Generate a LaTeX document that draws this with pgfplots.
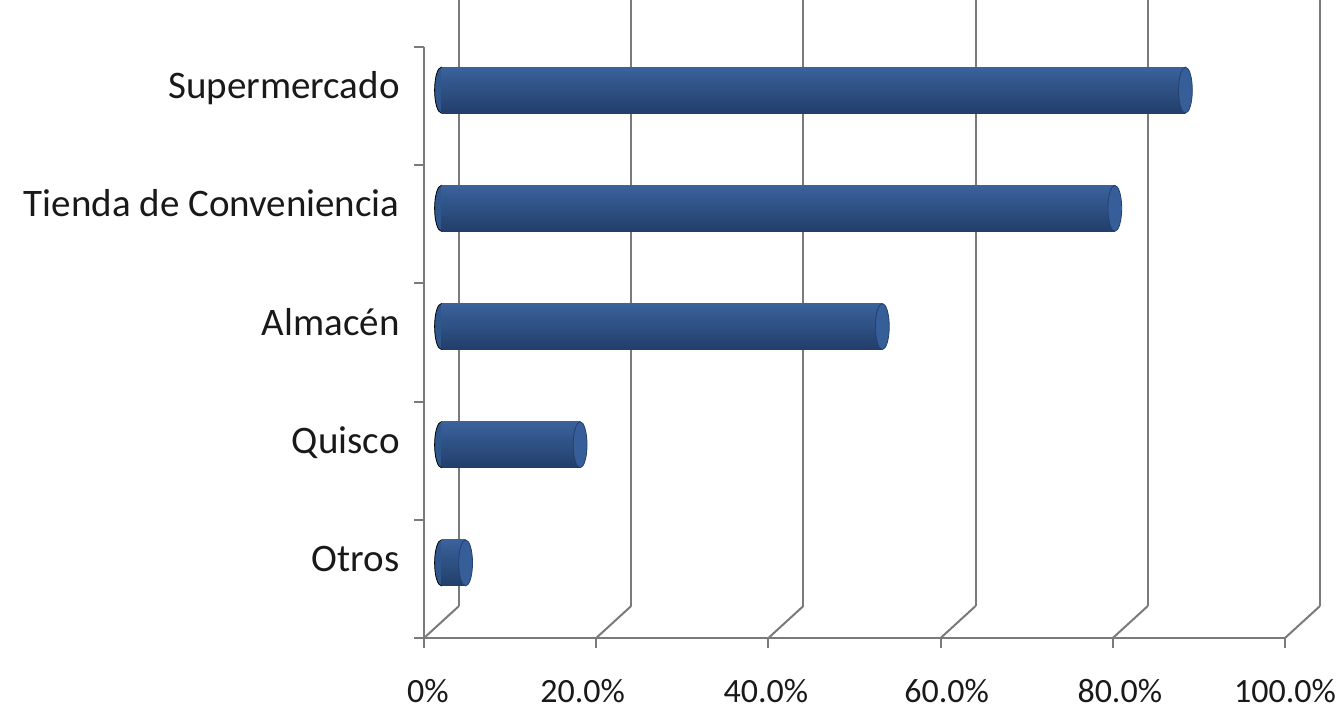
\documentclass[border=0pt]{standalone}
\usepackage{fontspec}
\setmainfont{Carlito}
\usepackage{pgfplots}
\pgfplotsset{compat=1.18}

\definecolor{gridgray}{RGB}{122,122,122}
\definecolor{bartop}{RGB}{58,98,156}
\definecolor{barmid}{RGB}{48,86,142}
\definecolor{barbot}{RGB}{34,62,106}
\definecolor{capfill}{RGB}{54,94,152}
\definecolor{capedge}{RGB}{36,64,110}
\definecolor{labeltext}{RGB}{25,25,25}

\pgfplotsset{
  cylaxis/.style={at={(220.75pt,43.5pt)}, anchor=south west,
    scale only axis, width=430.5pt, height=295.5pt,
    xmin=0, xmax=100, ymin=0, ymax=5, enlargelimits=false,
    clip=false, hide axis},
  cyl/.style={xbar, bar width=23pt, bar shift=0pt, draw=none,
    top color=bartop, middle color=barmid, bottom color=barbot},
  capL/.style={only marks, mark=*, mark size=11.5pt,
    mark options={xscale=0.3, fill=barmid, draw=none}},
  capR/.style={only marks, mark=*, mark size=11.5pt,
    mark options={xscale=0.3, fill=capfill, draw=capedge, line width=0.4pt}},
}

\begin{document}
\begin{tikzpicture}
\path[use as bounding box] (0,0) rectangle (671.5pt,354.5pt);

% back wall: vertical grid lines
\begin{axis}[
  at={(229.5pt,51.5pt)}, anchor=south west,
  scale only axis, width=430.5pt, height=303pt,
  xmin=0, xmax=100, ymin=0, ymax=1, enlargelimits=false,
  axis line style={draw=none},
  xtick={0,20,...,100}, xticklabels={}, ytick=\empty,
  major tick length=0pt,
  xmajorgrids, grid style={gridgray, line width=1pt},
]
\end{axis}

% front floor and left axis
\begin{axis}[
  at={(212pt,35.5pt)}, anchor=south west,
  scale only axis, width=430.5pt, height=295.5pt,
  xmin=0, xmax=100, ymin=0, ymax=5, enlargelimits=false,
  clip=false,
  axis x line=bottom, axis y line=left,
  axis line style={-, gridgray, line width=1pt},
  tick align=outside, major tick length=5pt,
  tick style={gridgray, line width=1pt},
  xtick={0,20,...,100},
  xticklabels={\hspace*{4pt}0\%, 20.0\%\hspace*{13.5pt}, 40.0\%\hspace*{2.5pt},
    \hspace*{6pt}60.0\%, \hspace*{7pt}80.0\%, 100.0\%},
  xticklabel style={font=\fontsize{17}{20}\selectfont, text=labeltext,
    inner sep=0pt, anchor=center, yshift=-21.5pt},
  ytick={0,...,5}, yticklabels={},
  extra y ticks={0.5635,1.5635,2.5635,3.5635,4.5635},
  extra y tick labels={Otros,Quisco,Almacén,Tienda de Conveniencia,Supermercado},
  extra y tick style={major tick length=0pt,
    yticklabel style={font=\fontsize{19.5}{23}\selectfont, text=labeltext,
      inner sep=0pt, anchor=base east, xshift=-12pt}},
]
\pgfplotsinvokeforeach{0,20,...,100}{
  \draw[gridgray, line width=1pt] (axis cs:#1,0) -- ++(17.5pt,16pt);
}
\end{axis}

% rounded back ends of the cylinders (own axis so they sit below the bars)
\begin{axis}[cylaxis]
\addplot[capL] coordinates {(0,4.5) (0,3.5) (0,2.5) (0,1.5) (0,0.5)};
\end{axis}

% cylinders, halfway into the depth
\begin{axis}[cylaxis]
% one plot per bar so that each cylinder gets its own shading
\addplot[cyl] coordinates {(86.4,4.5)}; % Supermercado
\addplot[cyl] coordinates {(78.2,3.5)}; % Tienda de Conveniencia
\addplot[cyl] coordinates {(51.2,2.5)}; % Almacén
\addplot[cyl] coordinates {(16.1,1.5)}; % Quisco
\addplot[cyl] coordinates {(2.8,0.5)};  % Otros
% end faces
\addplot[capR] coordinates {(86.4,4.5) (78.2,3.5) (51.2,2.5) (16.1,1.5) (2.8,0.5)};
\end{axis}
\end{tikzpicture}
\end{document}
